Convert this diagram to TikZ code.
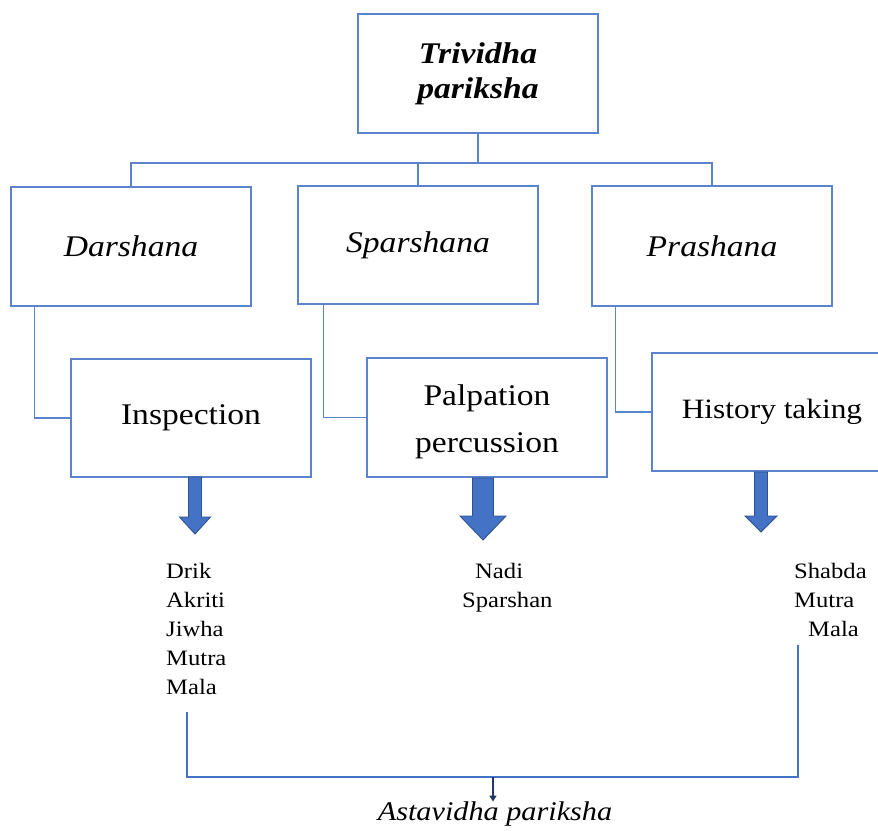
\documentclass[tikz,border=0pt]{standalone}
\usepackage{fontspec}
\setmainfont{Liberation Serif}[FakeStretch=1.12]
\usetikzlibrary{arrows.meta}
\definecolor{boxblue}{HTML}{4472C4}
\definecolor{lineblue}{HTML}{5B84CC}
\definecolor{darkblue}{HTML}{2F528F}
\definecolor{navy}{HTML}{1F3864}
\newcommand\myBlockArrow[6]{% cx, top, shaft half, head half, head top, tip
  \filldraw[fill=boxblue,draw=darkblue,line width=0.9pt]
    (#1-#3,#2) -- (#1+#3,#2) -- (#1+#3,#5) -- (#1+#4,#5) -- (#1,#6)
    -- (#1-#4,#5) -- (#1-#3,#5) -- cycle;}
\begin{document}
\begin{tikzpicture}[x=1pt,y=-1pt,
  box/.style={draw=lineblue,line width=1.5pt,fill=white,minimum width=240pt,
    inner sep=0pt,align=center,font=\fontsize{30}{35}\selectfont},
  conn/.style={draw=lineblue,line width=1.5pt},
  listtxt/.style={inner sep=0pt,align=left,anchor=north west,font=\fontsize{22}{29}\selectfont},
  bracket/.style={draw=boxblue,line width=2.4pt}]
\useasboundingbox (0,0) rectangle (878,830);
\fill[white] (0,0) rectangle (878,830);

% boxes
\node[box,minimum height=119pt,font=\fontsize{30}{35}\selectfont\bfseries\itshape] (t) at (478,73.5) {Trividha\\pariksha};
\node[box,minimum height=119pt] (d) at (131,246.5) {\itshape Darshana};
\node[box,minimum height=118pt] (s) at (418,245) {\itshape Sparshana};
\node[box,minimum height=120pt] (p) at (712,246) {\itshape Prashana};
\node[box,minimum height=118pt] (i) at (191,418) {Inspection};
\node[box,minimum height=119pt,font=\fontsize{30}{47}\selectfont,text depth=0pt] (pp) at (487,417.5) {\raisebox{-3pt}{Palpation}\\\raisebox{-3pt}{percussion}};
\node[box,minimum height=118pt,font=\fontsize{28}{33}\selectfont] (h) at (772,412) {History taking};

% tree connectors
\coordinate (bar) at (0,163);
\draw[conn] (t.south) -- (t.south |- bar);
\draw[conn] (d.north) -- (d.north |- bar) -- (p.north |- bar) -- (p.north);
\draw[conn] (s.north) -- (s.north |- bar);

% side connectors
\draw[conn] ([xshift=24pt]d.south west) |- (i.west);
\draw[conn] ([xshift=26pt]s.south west) |- (pp.west);
\draw[conn] ([xshift=24pt]p.south west) |- (h.west);

% block arrows
\myBlockArrow{195}{477}{6.5}{15.5}{517}{534}
\myBlockArrow{483}{478}{10.5}{23}{516}{540}
\myBlockArrow{761}{472}{6.5}{16}{516}{532}

% lists
\node[listtxt] (l1) at (166,563) {Drik\\Akriti\\Jiwha\\Mutra\\Mala};
\node[listtxt] (l2) at (462,563) {\hspace*{13pt}Nadi\\Sparshan};
\node[listtxt] (l3) at (794,563) {Shabda\\Mutra\\\hspace*{14pt}Mala};

% bottom bracket
\coordinate (bl) at (187,712);
\coordinate (br) at (798,645);
\coordinate (bm) at (493,777);
\draw[bracket] (bl) |- (bm) -| (br);
\node[inner sep=0pt,font=\fontsize{27}{30}\selectfont\itshape] (ast) at (495,814) {Astavidha pariksha};
\draw[navy,line width=2pt,-{Triangle[length=6pt,width=7pt]}] (bm) -- (bm |- ast.north);
\end{tikzpicture}
\end{document}
